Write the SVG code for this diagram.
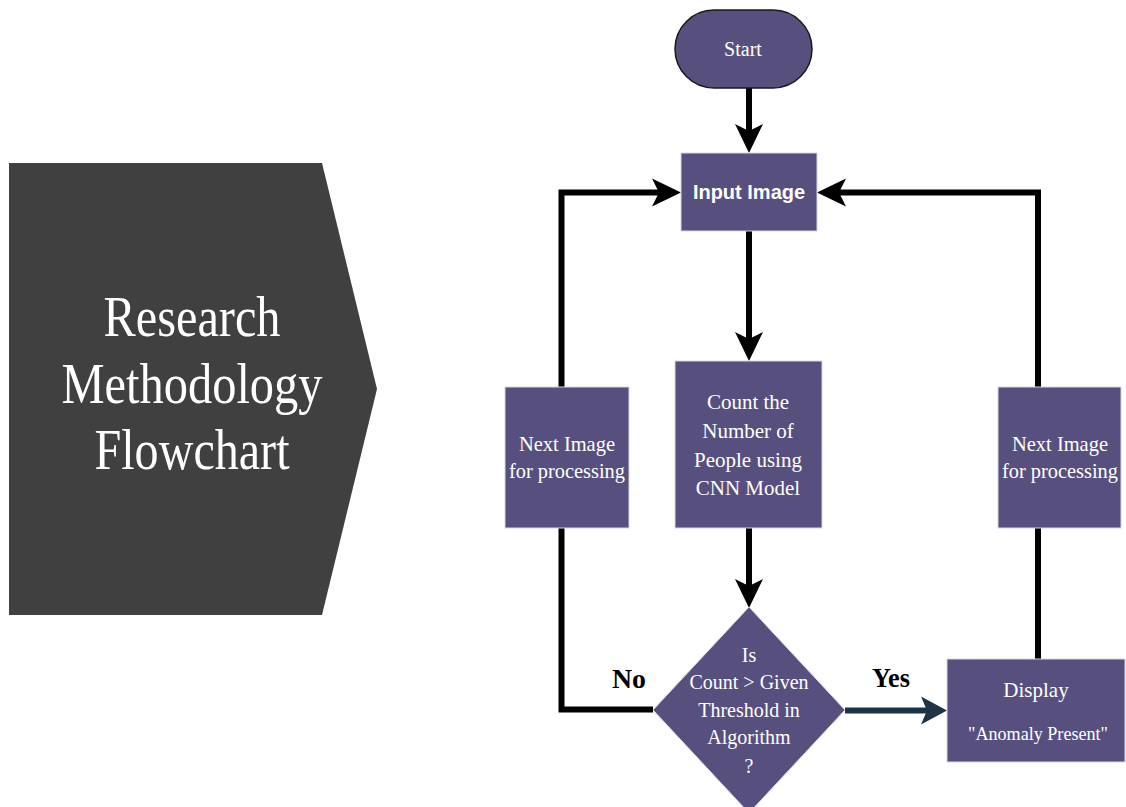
<svg xmlns="http://www.w3.org/2000/svg" width="1126" height="807" viewBox="0 0 1126 807">
  <style>
    .node { fill: #574F7D; stroke: #D8D8E0; stroke-width: 1; }
    .ntext { font-family: "Liberation Serif", "Times New Roman", serif; font-size: 21px; fill: #FFFFFF; text-anchor: middle; }
    .edge { fill: none; stroke: #000000; stroke-width: 6; stroke-linejoin: miter; }
    .lbl { font-family: "Liberation Serif", "Times New Roman", serif; font-size: 28px; font-weight: bold; fill: #000000; text-anchor: middle; }
  </style>
  <defs>
    <marker id="arrow" viewBox="-10 -15 32 30" refX="0" refY="0" markerWidth="32" markerHeight="30" markerUnits="userSpaceOnUse" orient="auto">
      <path d="M22,0 L-7,-14 L0,0 L-7,14 Z" fill="#000000"/>
    </marker>
    <marker id="arrowNavy" viewBox="-10 -15 32 30" refX="0" refY="0" markerWidth="32" markerHeight="30" markerUnits="userSpaceOnUse" orient="auto">
      <path d="M20,0 L-6,-14 L0,0 L-6,14 Z" fill="#1E3445"/>
    </marker>
  </defs>
  <rect width="1126" height="807" fill="#FFFFFF"/>

  <g id="title">
    <polygon points="9,163 322,163 377,389 322,615 9,615" fill="#404040"/>
    <g font-family="Liberation Serif, Times New Roman, serif" font-size="57" fill="#FFFFFF" text-anchor="middle">
      <text x="192" y="336" textLength="177" lengthAdjust="spacingAndGlyphs">Research</text>
      <text x="192" y="403" textLength="261" lengthAdjust="spacingAndGlyphs">Methodology</text>
      <text x="192" y="469" textLength="195" lengthAdjust="spacingAndGlyphs">Flowchart</text>
    </g>
  </g>

  <g id="connectors">
    <path class="edge" d="M749,88 V131" marker-end="url(#arrow)"/>
    <path class="edge" d="M749,231 V339" marker-end="url(#arrow)"/>
    <path class="edge" d="M749,528 V586" marker-end="url(#arrow)"/>
    <path class="edge" d="M561.5,387 V192.5 H659" marker-end="url(#arrow)"/>
    <path class="edge" d="M1038,659 V192.5 H839" marker-end="url(#arrow)"/>
    <path class="edge" d="M653,709.5 H561.5 V528"/>
    <path d="M845,710.5 H927" fill="none" stroke="#1E3445" stroke-width="6" marker-end="url(#arrowNavy)"/>
    <text class="lbl" x="629" y="688" textLength="34" lengthAdjust="spacingAndGlyphs">No</text>
    <text class="lbl" x="891" y="687" textLength="38" lengthAdjust="spacingAndGlyphs">Yes</text>
  </g>

  <g id="start">
    <rect x="675" y="10" width="137" height="78" rx="39" ry="39" fill="#574F7D" stroke="#1A1A1A" stroke-width="1.5"/>
    <text class="ntext" x="743" y="56" style="font-size:20px">Start</text>
  </g>

  <g id="input-image">
    <rect class="node" x="681" y="153" width="136" height="78"/>
    <text x="749" y="199" font-family="Liberation Sans, Arial, sans-serif" font-size="20" font-weight="bold" fill="#FFFFFF" text-anchor="middle">Input Image</text>
  </g>

  <g id="count">
    <rect class="node" x="675" y="361" width="147" height="167"/>
    <text class="ntext" x="748" y="409">Count the</text>
    <text class="ntext" x="748" y="438">Number of</text>
    <text class="ntext" x="748" y="467">People using</text>
    <text class="ntext" x="748" y="495">CNN Model</text>
  </g>

  <g id="next-left">
    <rect class="node" x="505" y="387" width="124" height="141"/>
    <text class="ntext" x="567" y="451" textLength="96" lengthAdjust="spacingAndGlyphs">Next Image</text>
    <text class="ntext" x="567" y="478" textLength="116" lengthAdjust="spacingAndGlyphs">for processing</text>
  </g>

  <g id="next-right">
    <rect class="node" x="998" y="387" width="123" height="141"/>
    <text class="ntext" x="1060" y="451" textLength="96" lengthAdjust="spacingAndGlyphs">Next Image</text>
    <text class="ntext" x="1060" y="478" textLength="116" lengthAdjust="spacingAndGlyphs">for processing</text>
  </g>

  <g id="decision">
    <polygon class="node" points="749,607 845,710 749,813 653,710"/>
    <g class="ntext" style="font-size:20px">
      <text x="749" y="662">Is</text>
      <text x="749" y="689">Count &gt; Given</text>
      <text x="749" y="717">Threshold in</text>
      <text x="749" y="744">Algorithm</text>
      <text x="749" y="773">?</text>
    </g>
  </g>

  <g id="display">
    <rect class="node" x="947" y="659" width="178" height="103"/>
    <text class="ntext" x="1036" y="697">Display</text>
    <text class="ntext" x="1038" y="740" style="font-size:19px" textLength="140" lengthAdjust="spacingAndGlyphs">"Anomaly Present"</text>
  </g>
</svg>
